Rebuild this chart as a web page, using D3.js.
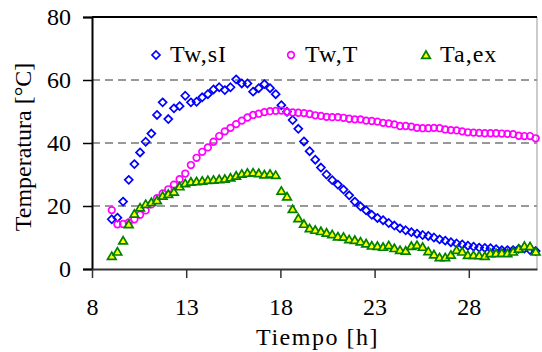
<!DOCTYPE html>
<html>
<head>
<meta charset="utf-8">
<script src="https://cdn.jsdelivr.net/npm/d3@7"></script>
</head>
<body style="margin:0">
<div id="chart"></div>
<script>
// hours
const times = [9.05, 9.35, 9.65, 9.95, 10.25, 10.55, 10.85, 11.15, 11.45, 11.75,
  12.05, 12.35, 12.65, 12.95, 13.25, 13.55, 13.85, 14.15, 14.45, 14.75,
  15.05, 15.35, 15.65, 15.95, 16.25, 16.55, 16.85, 17.15, 17.45, 17.75,
  18.05, 18.35, 18.65, 18.95, 19.25, 19.55, 19.85, 20.15, 20.45, 20.75,
  21.05, 21.35, 21.65, 21.95, 22.25, 22.55, 22.85, 23.15, 23.45, 23.75,
  24.05, 24.35, 24.65, 24.95, 25.25, 25.55, 25.85, 26.15, 26.45, 26.75,
  27.05, 27.35, 27.65, 27.95, 28.25, 28.55, 28.85, 29.15, 29.45, 29.75,
  30.05, 30.35, 30.65, 30.95, 31.25, 31.55];

const twSI = [15.8, 16.3, 21.4, 28.3, 33.3, 37.0, 40.4, 43.0, 48.9, 52.9,
  47.6, 51.0, 51.7, 55.0, 52.9, 53.1, 54.5, 55.5, 57.0, 57.7,
  56.8, 57.7, 60.2, 58.9, 58.9, 56.3, 57.4, 58.7, 57.4, 55.5,
  52.0, 49.9, 47.3, 44.5, 40.5, 37.4, 34.7, 32.2, 30.0, 28.2,
  26.8, 25.2, 23.4, 21.4, 19.9, 18.6, 17.2, 16.2, 15.5, 14.6,
  13.8, 12.9, 12.3, 11.7, 11.2, 10.8, 10.5, 10.0, 9.4, 9.0,
  8.5, 8.1, 7.8, 7.4, 7.1, 6.8, 6.7, 6.6, 6.3, 6.0,
  6.0, 6.0, 6.4, 6.5, 6.0, 5.7];

const twT = [18.7, 14.2, 14.3, 14.8, 15.8, 17.2, 18.6, 20.5, 22.5, 24.0,
  25.3, 26.8, 28.5, 30.3, 33.0, 35.3, 37.2, 38.6, 40.4, 42.2,
  43.7, 44.8, 46.0, 47.1, 48.1, 48.9, 49.3, 49.8, 50.1, 50.2,
  50.3, 49.9, 49.7, 49.6, 49.5, 49.2, 48.8, 48.6, 48.3, 48.2,
  48.2, 48.0, 47.7, 47.5, 47.5, 47.1, 47.0, 46.8, 46.4, 46.2,
  45.9, 45.4, 45.4, 45.2, 44.8, 44.7, 44.7, 44.8, 44.7, 44.3,
  44.1, 44.0, 43.7, 43.4, 43.3, 43.2, 43.1, 43.1, 43.1, 43.0,
  42.9, 42.8, 42.3, 42.2, 42.2, 41.5];

const taEx = [4.1, 5.5, 9.0, 14.2, 17.5, 19.5, 20.6, 21.2, 21.8, 23.2,
  23.8, 24.5, 26.2, 27.2, 27.7, 27.8, 28.0, 28.2, 28.3, 28.5,
  28.6, 29.0, 29.6, 30.2, 30.5, 30.6, 30.4, 30.0, 30.2, 29.8,
  24.8, 23.0, 19.0, 16.1, 14.3, 12.9, 12.4, 12.0, 11.5, 11.0,
  10.3, 10.2, 9.4, 9.2, 8.7, 8.1, 7.4, 7.3, 7.0, 7.5,
  6.6, 6.0, 5.8, 7.3, 7.6, 7.0, 5.6, 4.6, 3.7, 3.7,
  4.5, 6.0, 5.5, 4.4, 4.4, 4.3, 4.1, 5.0, 5.0, 5.1,
  5.0, 5.5, 6.4, 7.3, 7.2, 5.5];

const xTicks = [8, 13, 18, 23, 28];
const yTicks = [0, 20, 40, 60, 80];
const gridTicks = [20, 40, 60];
const seriesNames = ["Tw,sI", "Tw,T", "Ta,ex"];

const W = 542, H = 352;
const margin = {top: 17, right: 5, bottom: 83, left: 92};
const width = W - margin.left - margin.right;
const height = H - margin.top - margin.bottom;
const serif = "Liberation Serif";

const svg = d3.select("#chart").append("svg")
  .attr("width", W).attr("height", H)
  .attr("font-family", serif).attr("font-size", 24);
const g = svg.append("g")
  .attr("transform", `translate(${margin.left},${margin.top})`);

const x = d3.scaleLinear().domain([8, 31.62]).range([0, width]);
const y = d3.scaleLinear().domain([0, 80]).range([height, 0]);

// dashed grid
g.selectAll(".grid").data(gridTicks).join("line")
  .attr("x1", 0).attr("x2", width)
  .attr("y1", d => y(d)).attr("y2", d => y(d))
  .attr("stroke", "#333").attr("stroke-width", 1)
  .attr("stroke-dasharray", "8,5");

// plot frame
g.append("line").attr("x1", width).attr("x2", width).attr("y1", 0).attr("y2", height)
  .attr("stroke", "#999").attr("stroke-width", 1);
g.append("line").attr("x1", 0).attr("x2", width).attr("y1", 0).attr("y2", 0)
  .attr("stroke", "#000").attr("stroke-width", 2);

const yAxis = g.append("g")
  .call(d3.axisLeft(y).tickValues(yTicks).tickSize(9).tickPadding(12).tickFormat(d3.format("d")));
yAxis.attr("font-family", serif).attr("font-size", 24);
yAxis.select(".domain").attr("stroke", "#000").attr("stroke-width", 2);
yAxis.selectAll("line").attr("stroke", "#000").attr("stroke-width", 1.5);
yAxis.selectAll("text").attr("fill", "#000");

const xAxis = g.append("g")
  .attr("transform", `translate(0,${height})`)
  .call(d3.axisBottom(x).tickValues(xTicks).tickSize(9).tickPadding(20).tickSizeOuter(0).tickFormat(d3.format("d")));
xAxis.attr("font-family", serif).attr("font-size", 24);
xAxis.select(".domain").attr("stroke", "#333").attr("stroke-width", 2);
xAxis.selectAll("line").attr("stroke", "#333").attr("stroke-width", 1.5);
xAxis.selectAll("text").attr("fill", "#000");

// axis titles, placed in groups like the legend text and centred by measuring
const xTitleG = svg.append("g")
  .attr("transform", `translate(${margin.left + width / 2 + 3},345)`);
const xTitle = xTitleG.append("text")
  .attr("font-family", serif).attr("font-size", 24).attr("letter-spacing", 1.5)
  .text("Tiempo [h]");
xTitle.attr("x", -xTitle.node().getComputedTextLength() / 2);

const yTitleG = svg.append("g")
  .attr("transform", `translate(31,${margin.top + height / 2 + 4}) rotate(-90)`);
const yTitle = yTitleG.append("text")
  .attr("font-family", serif).attr("font-size", 24)
  .text("Temperatura [°C]");
yTitle.attr("x", -yTitle.node().getComputedTextLength() / 2);

// marker shapes
const diamond = "M0,-4L4,0L0,4L-4,0Z";
const triangle = "M0,-4L4.3,3.3L-4.3,3.3Z";

const styles = [
  {vals: twSI, draw: sel => sel.append("path").attr("d", diamond).attr("fill", "none").attr("stroke", "#0000ff").attr("stroke-width", 1.7)},
  {vals: twT, draw: sel => sel.append("circle").attr("r", 3.3).attr("fill", "none").attr("stroke", "#ff00ff").attr("stroke-width", 1.7)},
  {vals: taEx, draw: sel => sel.append("path").attr("d", triangle).attr("fill", "#ffff00").attr("stroke", "#008000").attr("stroke-width", 1.7)}
];

styles.forEach(s => {
  const pts = g.append("g").selectAll("g")
    .data(times.map((t, i) => ({t, v: s.vals[i]})))
    .join("g")
    .attr("transform", d => `translate(${x(d.t)},${y(d.v)})`);
  s.draw(pts);
});

// legend
const legendX = [156, 291, 426];
const legend = svg.append("g");
seriesNames.forEach((name, i) => {
  const item = legend.append("g").attr("transform", `translate(${legendX[i]},55)`);
  styles[i].draw(item);
  item.append("text").attr("x", 14).attr("y", 7)
    .attr("font-family", serif).attr("font-size", 24).attr("letter-spacing", 1)
    .text(name);
});
</script>
</body>
</html>
